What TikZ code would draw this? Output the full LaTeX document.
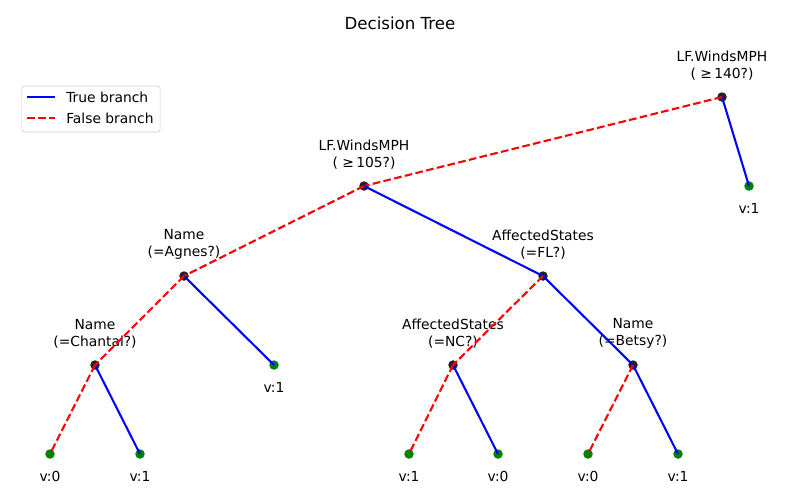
\documentclass[tikz,border=0pt]{standalone}
\usepackage{fontspec}
\setmainfont{DejaVu Sans}
\definecolor{splitgray}{HTML}{222222}
\definecolor{leafgreen}{HTML}{008000}
\tikzset{
  split/.style={circle, fill=splitgray, inner sep=0pt, minimum size=0.095in},
  leaf/.style={circle, fill=leafgreen, inner sep=0pt, minimum size=0.095in},
  truebr/.style={blue, line width=1.5pt},
  falsebr/.style={red, line width=1.5pt, dash pattern=on 5.55pt off 2.4pt},
  splitlbl/.style={anchor=south, align=center, inner sep=0pt, font=\fontsize{10}{12.5}\selectfont},
  leaflbl/.style={anchor=north, inner sep=0pt, font=\fontsize{10}{12}\selectfont}
}
\begin{document}
\begin{tikzpicture}[x=0.01in, y=-0.01in]
        \useasboundingbox (0,0) rectangle (800,500);
        % Title
        \node[font=\fontsize{12}{14}\selectfont] (title) at (400,23) {Decision Tree};

        % Split labels
        \node[splitlbl] (lR) at (722,81) {LF.WindsMPH\\( ≥\,140?)};
        \node[splitlbl] (lA) at (364,170) {LF.WindsMPH\\( ≥\,105?)};
        \node[splitlbl] (lB) at (184,260) {Name\\(=Agnes?)};
        \node[splitlbl] (lC) at (543,260) {AffectedStates\\(=FL?)};
        \node[splitlbl] (lD) at (95,349) {Name\\(=Chantal?)};
        \node[splitlbl] (lE) at (453,349) {AffectedStates\\(=NC?)};
        \node[splitlbl] (lF) at (633,349) {Name\\(=Betsy?)};

        % Leaf labels
        \node[leaflbl] (vR) at (749,203) {v:1};
        \node[leaflbl] (vB) at (274,382) {v:1};
        \node[leaflbl] (vD0) at (50,471) {v:0};
        \node[leaflbl] (vD1) at (140,471) {v:1};
        \node[leaflbl] (vE0) at (409,471) {v:1};
        \node[leaflbl] (vE1) at (498,471) {v:0};
        \node[leaflbl] (vF0) at (588,471) {v:0};
        \node[leaflbl] (vF1) at (678,471) {v:1};

        % Split points
        \node[split] (R) at (722,97) {};
        \node[split] (A) at (364,186) {};
        \node[split] (B) at (184,276) {};
        \node[split] (C) at (543,276) {};
        \node[split] (D) at (95,365) {};
        \node[split] (E) at (453,365) {};
        \node[split] (F) at (633,365) {};

        % Leaves
        \node[leaf] (R1) at (749,186) {};
        \node[leaf] (B1) at (274,365) {};
        \node[leaf] (D0) at (50,454) {};
        \node[leaf] (D1) at (140,454) {};
        \node[leaf] (E0) at (409,454) {};
        \node[leaf] (E1) at (498,454) {};
        \node[leaf] (F0) at (588,454) {};
        \node[leaf] (F1) at (678,454) {};

        % Branches
        \draw[truebr] (R.center) -- (R1.center);
        \draw[falsebr] (R.center) -- (A.center);
        \draw[truebr] (A.center) -- (C.center);
        \draw[falsebr] (A.center) -- (B.center);
        \draw[truebr] (B.center) -- (B1.center);
        \draw[falsebr] (B.center) -- (D.center);
        \draw[truebr] (C.center) -- (F.center);
        \draw[falsebr] (C.center) -- (E.center);
        \draw[truebr] (D.center) -- (D1.center);
        \draw[falsebr] (D.center) -- (D0.center);
        \draw[truebr] (E.center) -- (E1.center);
        \draw[falsebr] (E.center) -- (E0.center);
        \draw[truebr] (F.center) -- (F1.center);
        \draw[falsebr] (F.center) -- (F0.center);

        % Legend
        \node[draw=black!20, fill=white, rounded corners=2pt, inner sep=0pt,
              minimum width=1.38in, minimum height=0.46in] (legend) at (91,109) {};
        \coordinate (t0) at (27,97);
        \coordinate (t1) at (55,97);
        \coordinate (f0) at (27,118);
        \coordinate (f1) at (55,118);
        \draw[truebr] (t0) -- (t1);
        \draw[falsebr] (f0) -- (f1);
        \node[anchor=west, inner sep=0pt, font=\fontsize{10}{12}\selectfont] (ltrue) at (66,97) {True branch};
        \node[anchor=west, inner sep=0pt, font=\fontsize{10}{12}\selectfont] (lfalse) at (66,118) {False branch};
\end{tikzpicture}
\end{document}
